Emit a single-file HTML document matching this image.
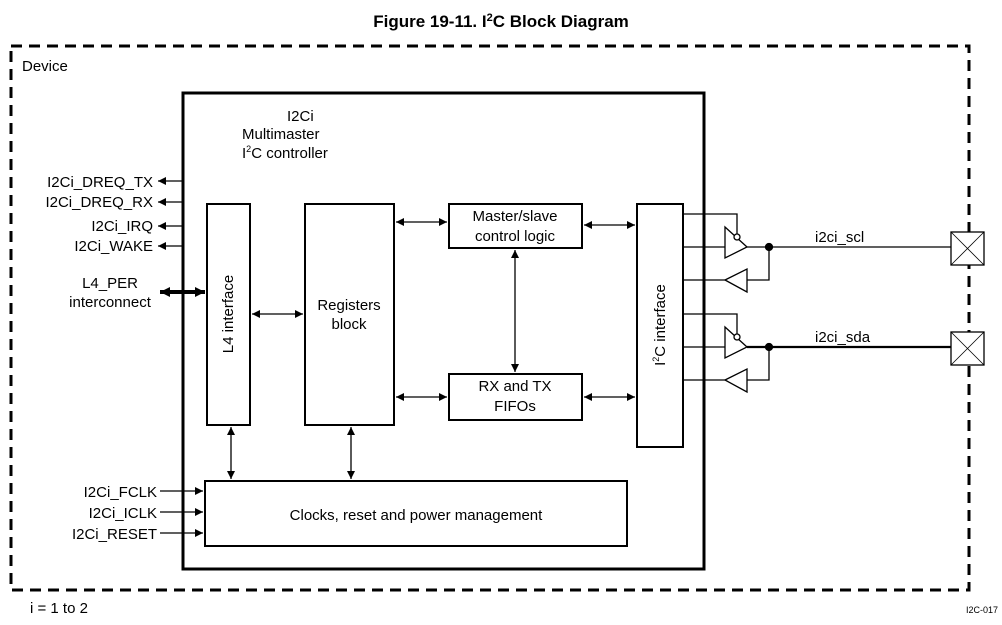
<!DOCTYPE html>
<html><head><meta charset="utf-8"><style>
html,body{margin:0;padding:0;background:#fff;}
svg{display:block;font-family:"Liberation Sans",Arial,sans-serif;}
</style></head><body>
<svg width="1002" height="625" viewBox="0 0 1002 625" xmlns="http://www.w3.org/2000/svg">
<defs>
<marker id="a" markerWidth="8" markerHeight="8" refX="8" refY="4" orient="auto-start-reverse" markerUnits="userSpaceOnUse"><path d="M0,0 L8,4 L0,8 z" fill="#000"/></marker>
<marker id="b" markerWidth="10" markerHeight="10" refX="10" refY="5" orient="auto-start-reverse" markerUnits="userSpaceOnUse"><path d="M0,0 L10,5 L0,10 z" fill="#000"/></marker>
</defs>
<text x="501" y="27" text-anchor="middle" font-size="17" font-weight="bold">Figure 19-11. I<tspan font-size="11" dy="-6">2</tspan><tspan dy="6">C Block Diagram</tspan></text>
<rect x="11" y="46" width="958" height="544" fill="none" stroke="#000" stroke-width="3" stroke-dasharray="11,7"/>
<text x="22" y="71" font-size="15">Device</text>
<rect x="183" y="93" width="521" height="476" fill="none" stroke="#000" stroke-width="3"/>
<g font-size="15">
<text x="287" y="121">I2Ci</text>
<text x="242" y="139">Multimaster</text>
<text x="242" y="158">I<tspan font-size="9" dy="-6">2</tspan><tspan dy="6">C controller</tspan></text>
<g text-anchor="end">
<text x="153" y="187">I2Ci_DREQ_TX</text>
<text x="153" y="207">I2Ci_DREQ_RX</text>
<text x="153" y="231">I2Ci_IRQ</text>
<text x="153" y="251">I2Ci_WAKE</text>
<text x="157" y="497">I2Ci_FCLK</text>
<text x="157" y="518">I2Ci_ICLK</text>
<text x="157" y="539">I2Ci_RESET</text>
</g>
<text x="110" y="288" text-anchor="middle">L4_PER</text>
<text x="110" y="307" text-anchor="middle">interconnect</text>
</g>
<g stroke="#000" stroke-width="1.3" fill="none">
<line x1="183" y1="181" x2="158" y2="181" marker-end="url(#a)"/>
<line x1="183" y1="202" x2="158" y2="202" marker-end="url(#a)"/>
<line x1="183" y1="226" x2="158" y2="226" marker-end="url(#a)"/>
<line x1="183" y1="246" x2="158" y2="246" marker-end="url(#a)"/>
<line x1="160" y1="292" x2="205" y2="292" stroke-width="4" marker-start="url(#b)" marker-end="url(#b)"/>
<line x1="160" y1="491" x2="203" y2="491" marker-end="url(#a)"/>
<line x1="160" y1="512" x2="203" y2="512" marker-end="url(#a)"/>
<line x1="160" y1="533" x2="203" y2="533" marker-end="url(#a)"/>
<rect x="207" y="204" width="43" height="221" stroke-width="2"/>
<rect x="305" y="204" width="89" height="221" stroke-width="2"/>
<rect x="449" y="204" width="133" height="44" stroke-width="2"/>
<rect x="449" y="374" width="133" height="46" stroke-width="2"/>
<rect x="637" y="204" width="46" height="243" stroke-width="2"/>
<rect x="205" y="481" width="422" height="65" stroke-width="2"/>
<line x1="252" y1="314" x2="303" y2="314" marker-start="url(#a)" marker-end="url(#a)"/>
<line x1="396" y1="222" x2="447" y2="222" marker-start="url(#a)" marker-end="url(#a)"/>
<line x1="584" y1="225" x2="635" y2="225" marker-start="url(#a)" marker-end="url(#a)"/>
<line x1="396" y1="397" x2="447" y2="397" marker-start="url(#a)" marker-end="url(#a)"/>
<line x1="584" y1="397" x2="635" y2="397" marker-start="url(#a)" marker-end="url(#a)"/>
<line x1="515" y1="250" x2="515" y2="372" marker-start="url(#a)" marker-end="url(#a)"/>
<line x1="231" y1="427" x2="231" y2="479" marker-start="url(#a)" marker-end="url(#a)"/>
<line x1="351" y1="427" x2="351" y2="479" marker-start="url(#a)" marker-end="url(#a)"/>
<g id="io">
<polyline points="683,214 737,214 737,234"/>
<line x1="683" y1="247" x2="725" y2="247"/>
<polygon points="725,227 747,247 725,258" fill="#fff"/>
<circle cx="737" cy="237" r="3" fill="#fff"/>
<line x1="747" y1="247" x2="951" y2="247"/>
<circle cx="769" cy="247" r="3.5" fill="#000"/>
<polyline points="747,280 769,280 769,247"/>
<polygon points="725,280 747,269 747,292" fill="#fff"/>
<line x1="683" y1="280" x2="725" y2="280"/>
<rect x="951" y="232" width="33" height="33" fill="#fff"/>
<line x1="951" y1="232" x2="984" y2="265" stroke-width="0.8"/>
<line x1="984" y1="232" x2="951" y2="265" stroke-width="0.8"/>
</g>
<use href="#io" transform="translate(0,100)"/>
<line x1="747" y1="347" x2="951" y2="347" stroke-width="2.2"/>
</g>
<g font-size="15">
<text x="228" y="314" text-anchor="middle" transform="rotate(-90 228 314)" dy="5">L4 interface</text>
<text x="349" y="310" text-anchor="middle">Registers</text>
<text x="349" y="329" text-anchor="middle">block</text>
<text x="515" y="221" text-anchor="middle">Master/slave</text>
<text x="515" y="241" text-anchor="middle">control logic</text>
<text x="515" y="391" text-anchor="middle">RX and TX</text>
<text x="515" y="411" text-anchor="middle">FIFOs</text>
<text x="660" y="325" text-anchor="middle" transform="rotate(-90 660 325)" dy="5">I<tspan font-size="9" dy="-6">2</tspan><tspan dy="6">C interface</tspan></text>
<text x="416" y="520" text-anchor="middle">Clocks, reset and power management</text>
<text x="815" y="242">i2ci_scl</text>
<text x="815" y="342">i2ci_sda</text>
<text x="30" y="613">i = 1 to 2</text>
</g>
<text x="998" y="613" text-anchor="end" font-size="9">I2C-017</text>
</svg>
</body></html>
